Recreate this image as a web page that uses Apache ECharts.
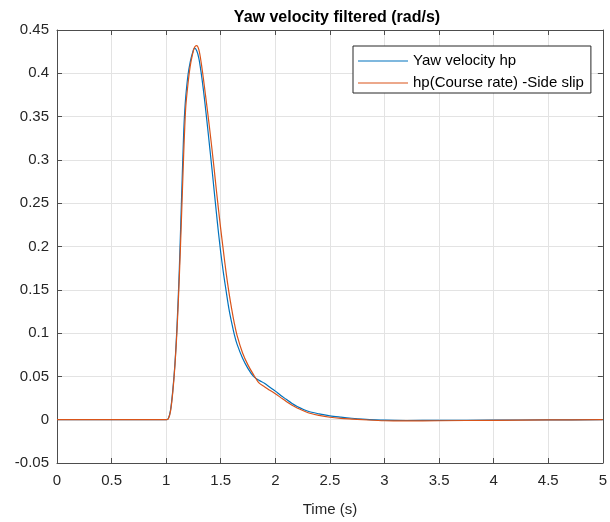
<!DOCTYPE html>
<html>
<head>
<meta charset="utf-8">
<script src="https://cdn.jsdelivr.net/npm/echarts@6/dist/echarts.min.js"></script>
<style>html,body{margin:0;padding:0;background:#fff}#c{width:610px;height:522px}</style>
</head>
<body>
<div id="c"></div>
<script>
var titleText = 'Yaw velocity filtered (rad/s)';
var xName = 'Time (s)';
var seriesNames = ['Yaw velocity hp', 'hp(Course rate) -Side slip'];
var times = [0, 1.00, 1.02, 1.04, 1.06, 1.08, 1.10, 1.12, 1.14, 1.16, 1.17, 1.18, 1.20, 1.22, 1.24, 1.26, 1.28, 1.30, 1.32, 1.34, 1.36, 1.38, 1.40, 1.42, 1.44, 1.46, 1.48, 1.50, 1.525, 1.55, 1.575, 1.60, 1.625, 1.65, 1.70, 1.75, 1.80, 1.85, 1.90, 1.95, 2.00, 2.05, 2.10, 2.15, 2.20, 2.30, 2.40, 2.50, 2.60, 2.70, 2.80, 3.00, 3.20, 3.50, 4.00, 4.50, 5.00];
var yawHp = [0, 0, 0.0015, 0.011, 0.033, 0.064, 0.11, 0.172, 0.252, 0.330, 0.356, 0.374, 0.398, 0.413, 0.423, 0.429, 0.426, 0.417, 0.401, 0.382, 0.360, 0.337, 0.313, 0.289, 0.264, 0.239, 0.215, 0.193, 0.169, 0.148, 0.128, 0.112, 0.098, 0.087, 0.071, 0.059, 0.050, 0.0455, 0.042, 0.0375, 0.033, 0.028, 0.0235, 0.019, 0.0153, 0.0098, 0.0068, 0.0045, 0.003, 0.0017, 0.0007, -0.0006, -0.0009, -0.0008, -0.0005, -0.0002, 0];
var courseHp = [0, 0, 0.001, 0.01, 0.031, 0.062, 0.105, 0.163, 0.232, 0.305, 0.337, 0.362, 0.388, 0.408, 0.421, 0.43, 0.432, 0.427, 0.413, 0.395, 0.375, 0.355, 0.334, 0.312, 0.289, 0.265, 0.242, 0.220, 0.194, 0.169, 0.147, 0.128, 0.111, 0.097, 0.077, 0.063, 0.052, 0.0425, 0.038, 0.034, 0.030, 0.0255, 0.021, 0.017, 0.0135, 0.008, 0.005, 0.0028, 0.0015, 0.0007, 0.0, -0.0012, -0.0014, -0.0012, -0.0007, -0.0003, 0];
var colors = ['#0072BD', '#D95319'];

function pairs(ts, vs) { return ts.map(function (t, i) { return [t, vs[i]]; }); }
function fmt(v) { return String(parseFloat(v.toFixed(2))); }

var axisColor = '#4d4d4d';
var gridColor = '#e3e3e3';
var font = 'Arial, "Liberation Sans", Helvetica, sans-serif';

function mkX(pos, show) {
  return {
    type: 'value', position: pos, min: 0, max: 5, interval: 0.5,
    name: show ? xName : '', nameLocation: 'middle', nameGap: 39,
    nameTextStyle: { fontSize: 15, color: '#262626', fontFamily: font },
    axisLine: { show: true, onZero: false, lineStyle: { color: axisColor, width: 1 } },
    axisTick: { show: true, inside: true, length: 5, lineStyle: { color: axisColor } },
    axisLabel: { show: show, fontSize: 15, color: '#262626', fontFamily: font, margin: 10, formatter: fmt },
    splitLine: { show: show, lineStyle: { color: gridColor, width: 1 } }
  };
}
function mkY(pos, show) {
  return {
    type: 'value', position: pos, min: -0.05, max: 0.45, interval: 0.05,
    axisLine: { show: true, onZero: false, lineStyle: { color: axisColor, width: 1 } },
    axisTick: { show: true, inside: true, length: 5, lineStyle: { color: axisColor } },
    axisLabel: { show: show, fontSize: 15, color: '#262626', fontFamily: font, margin: 8, formatter: fmt },
    splitLine: { show: show, lineStyle: { color: gridColor, width: 1 } }
  };
}

var chart = echarts.init(document.getElementById('c'), null, { renderer: 'canvas' });
chart.setOption({
  backgroundColor: '#fff',
  animation: false,
  title: {
    text: titleText, left: 332, top: 5, textAlign: 'center',
    textStyle: { fontSize: 16, fontWeight: 'bold', color: '#000', fontFamily: font }
  },
  grid: { left: 57, right: 2, top: 30, bottom: 57, containLabel: false },
  legend: {
    left: 353, top: 46, orient: 'vertical',
    icon: 'rect', itemWidth: 50, itemHeight: 1.2, itemGap: 6,
    padding: [7, 7, 2, 5],
    backgroundColor: '#fff', borderColor: '#262626', borderWidth: 1,
    textStyle: { fontSize: 15, color: '#000', fontFamily: font, lineHeight: 16 },
    data: seriesNames
  },
  xAxis: [mkX('bottom', true), mkX('top', false)],
  yAxis: [mkY('left', true), mkY('right', false)],
  series: [
    { name: seriesNames[0], type: 'line', xAxisIndex: 0, yAxisIndex: 0, data: pairs(times, yawHp), symbol: 'none', smooth: 0.3, lineStyle: { color: colors[0], width: 1.2 }, itemStyle: { color: colors[0] } },
    { name: seriesNames[1], type: 'line', xAxisIndex: 0, yAxisIndex: 0, data: pairs(times, courseHp), symbol: 'none', smooth: 0.3, lineStyle: { color: colors[1], width: 1.2 }, itemStyle: { color: colors[1] } }
  ]
});
</script>
</body>
</html>
